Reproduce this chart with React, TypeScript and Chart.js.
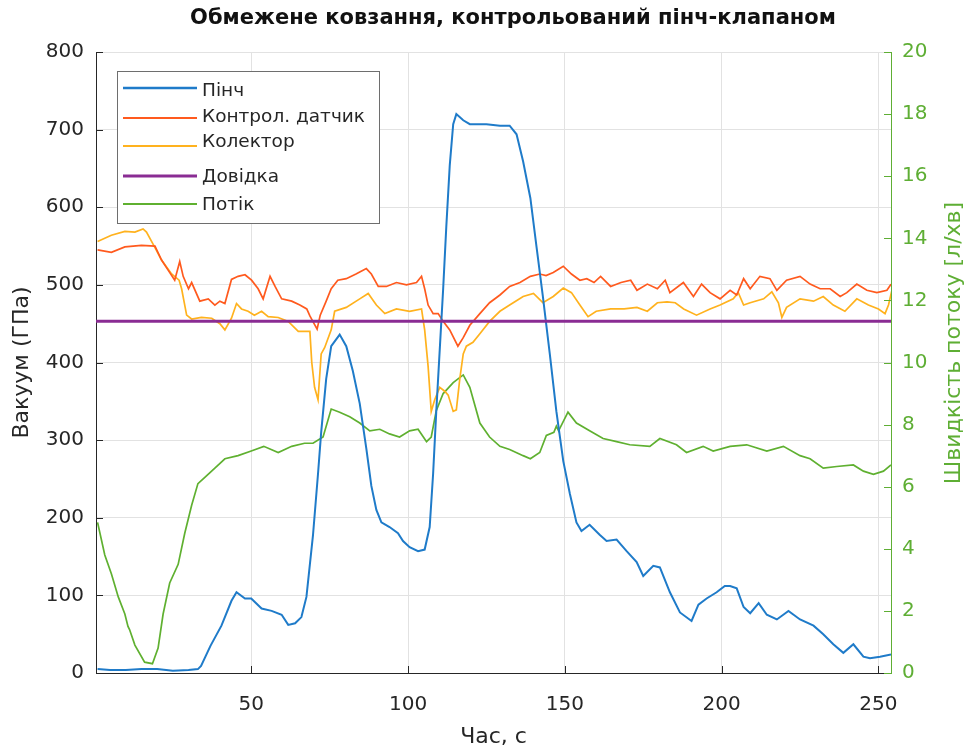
import React, { useEffect, useRef } from 'react';
import { Chart, registerables } from 'chart.js';

Chart.register(...registerables);

const TITLE = 'Обмежене ковзання, контрольований пінч-клапаном';
const X_TITLE = 'Час, с';
const Y_TITLE = 'Вакуум (ГПа)';
const Y2_TITLE = 'Швидкість потоку [л/хв]';

const xTicks = [50, 100, 150, 200, 250];
const seriesNames = ['Пінч', 'Контрол. датчик', 'Колектор', 'Довідка', 'Потік'];

// Пінч (ГПа)
const pinchT = [
  1, 5, 10, 15, 20, 25, 30, 33, 34, 37,
  40.5, 43.7, 45.3, 48, 50, 53.3, 56.5, 59.7, 61.8, 64,
  66, 67.6, 69.7, 71.3, 72.3, 73.9, 75.5, 78.2, 80.3, 82.4,
  84.6, 86.7, 88.3, 89.9, 91.5, 94.1, 96.8, 98.4, 100.5, 103.2,
  105.3, 106.9, 108, 109, 110.1, 111.2, 112.2, 113.3, 114.4, 115.4,
  117.6, 119.7, 125, 129.3, 132.4, 134.6, 136.7, 139, 141, 143,
  145.2, 147.3, 149.5, 151.6, 153.7, 155.3, 157.9, 161.1, 163.3, 166.5,
  169.7, 172.9, 175, 178.2, 180.3, 183.5, 186.7, 190.4, 192.6, 195.2,
  198.4, 201, 202.7, 204.8, 207, 209.1, 211.8, 214.4, 217.6, 221.3,
  225, 229.3, 232.4, 235.6, 238.8, 242, 245.2, 247.3, 250.5, 254,
];
const pinchV = [
  5, 4, 4, 5, 5, 3, 4, 5, 9, 35,
  61, 93, 104, 96, 96, 83, 80, 75, 62, 64,
  72, 98, 178, 257, 310, 379, 421, 436, 421, 389,
  347, 289, 241, 210, 194, 188, 180, 170, 162, 157,
  159, 188, 257, 337, 416, 495, 575, 654, 707, 720,
  712, 707, 707, 705, 705, 694, 659, 612, 548, 485,
  411, 337, 273, 231, 194, 183, 191, 178, 170, 172,
  157, 143, 125, 138, 136, 104, 78, 67, 88, 96,
  104, 112, 112, 109, 85, 77, 90, 75, 69, 80,
  69, 61, 50, 37, 26, 37, 21, 19, 21, 24,
];

// Контрол. датчик (ГПа)
const sensorT = [
  1, 5.4, 9.7, 15, 19.3, 21.4, 23.5, 25.6, 27.2, 28.3,
  30, 31, 33.6, 36.3, 38.4, 40, 41.6, 43.7, 45.8, 48,
  50.1, 52.2, 53.8, 56, 57.6, 59.7, 62.9, 65.5, 67.7, 68.7,
  71, 72, 73.9, 75.5, 77.6, 80.3, 83.4, 86.7, 88.3, 90.5,
  93.1, 96.3, 99.5, 102.7, 104.3, 105.3, 106.4, 108, 109.6, 111.2,
  113.3, 115.9, 117.6, 119.7, 122.9, 126, 129.3, 132.4, 135.7, 139,
  142, 144, 146.3, 149.5, 152.1, 154.8, 157, 159.3, 161.4, 164.6,
  167.9, 171, 173, 176.3, 179.5, 182, 183.5, 187.8, 191, 193.6,
  196.3, 199.5, 202.7, 204.8, 207, 209.1, 212.2, 215.4, 217.6, 220.7,
  225, 228.2, 231.4, 234.6, 237.8, 239.9, 243.1, 246.3, 249.5, 252.7,
  254,
];
const sensorV = [
  545, 542, 549, 551, 550, 532, 519, 506, 530, 511,
  495, 503, 479, 482, 474, 479, 476, 507, 511, 513,
  506, 495, 482, 511, 498, 482, 479, 474, 469, 460,
  443, 461, 479, 495, 506, 508, 514, 521, 514, 498,
  498, 503, 500, 503, 511, 495, 474, 463, 463, 453,
  442, 421, 432, 448, 463, 477, 487, 498, 503, 511,
  514, 512, 516, 524, 514, 506, 508, 503, 511, 498,
  503, 506, 493, 501, 495, 506, 490, 503, 485, 501,
  490, 482, 493, 487, 508, 495, 511, 508, 493, 506,
  511, 501, 495, 495, 485, 490, 501, 493, 490, 493,
  501,
];

// Колектор (ГПа)
const collT = [
  1, 5.4, 9.7, 12.9, 15.5, 16.6, 19.3, 21.4, 24.6, 27,
  27.8, 29.4, 31, 34.1, 37.4, 40, 41.6, 43.7, 45.3, 46.9,
  49, 51, 53.3, 55.4, 58.6, 61.8, 65, 67.1, 68.7, 69.3,
  70.2, 71.3, 72.3, 73.4, 75.5, 76.6, 80.3, 84.6, 87.3, 89.9,
  92.6, 96.3, 100.5, 104.3, 105.3, 106.4, 107.4, 108.5, 110.1, 111.7,
  112.8, 114.4, 115.4, 116.5, 117.6, 118.6, 120.7, 122.9, 126, 129.3,
  132.4, 136.7, 140, 143, 146.3, 149.5, 152.1, 154.8, 157.4, 160,
  164.6, 168.9, 173, 176.3, 179.5, 182.6, 185.2, 187.9, 192, 196.3,
  199.5, 203.7, 205.3, 207, 209.1, 213.4, 216, 218.1, 219.2, 220.7,
  225, 229.3, 232.4, 235.6, 239.3, 243.1, 246.8, 250, 252.1, 253.2,
  254.3,
];
const collV = [
  556, 564, 569, 568, 572, 568, 548, 532, 514, 506,
  495, 461, 456, 458, 457, 450, 442, 457, 476, 469,
  466, 461, 466, 459, 458, 453, 440, 440, 440, 400,
  368, 352, 411, 419, 442, 466, 471, 482, 489, 474,
  463, 469, 466, 469, 442, 395, 337, 352, 368, 363,
  358, 337, 339, 379, 411, 421, 426, 437, 453, 466,
  474, 485, 489, 477, 485, 496, 490, 474, 459, 466,
  469, 469, 471, 466, 477, 478, 477, 469, 461, 469,
  474, 482, 490, 474, 477, 482, 491, 477, 458, 471,
  482, 479, 485, 474, 466, 482, 474, 469, 463, 474,
  493,
];

// Довідка (ГПа)
const refT = [0.5, 254];
const refV = [453, 453];

// Потік (л/хв)
const flowT = [
  1, 3.3, 5.4, 7.6, 9.7, 10.7, 11.2, 12.9, 16, 18.5,
  20.3, 21.9, 24, 26.7, 28.8, 31, 33, 35.2, 38.4, 41.6,
  45.8, 50, 54, 58.6, 62.9, 67, 69.7, 72.9, 75.5, 78.2,
  81.4, 84.6, 87.8, 91, 94.1, 97.3, 100.5, 103.2, 105.9, 107.4,
  109, 111.2, 114.4, 117.6, 119.7, 122.9, 126, 129.3, 132.4, 136.7,
  139, 142, 144.1, 146.5, 147.3, 148, 151, 153.7, 157.9, 162.2,
  166.5, 170.7, 177.1, 180.3, 185.6, 188.8, 194.1, 197.3, 202.7, 208,
  214.4, 219.7, 225, 228.2, 232.4, 236.7, 242, 245.2, 248.4, 251.6,
  254,
];
const flowV = [
  4.85, 3.8, 3.2, 2.45, 1.9, 1.5, 1.4, 0.9, 0.35, 0.3,
  0.8, 1.9, 2.9, 3.5, 4.5, 5.4, 6.1, 6.3, 6.6, 6.9,
  7.0, 7.15, 7.3, 7.1, 7.3, 7.4, 7.4, 7.6, 8.5, 8.4,
  8.25, 8.05, 7.8, 7.85, 7.7, 7.6, 7.8, 7.85, 7.45, 7.6,
  8.45, 9.0, 9.35, 9.6, 9.2, 8.05, 7.6, 7.3, 7.2, 7.0,
  6.9, 7.1, 7.65, 7.75, 7.95, 7.8, 8.4, 8.05, 7.8, 7.55,
  7.45, 7.35, 7.3, 7.55, 7.35, 7.1, 7.3, 7.15, 7.3, 7.35,
  7.15, 7.3, 7.0, 6.9, 6.6, 6.65, 6.7, 6.5, 6.4, 6.5,
  6.7,
];

const COLORS = {
  pinch: '#1f7bc9',
  sensor: '#ff5a1e',
  coll: '#ffb21e',
  ref: '#8a2c93',
  flow: '#5fb030',
  text: '#262626',
  grid: '#e2e2e2',
  green: '#5eae34',
};

const FONT = "'DejaVu Sans', sans-serif";

const toPts = (t: number[], v: number[]) => t.map((x, i) => ({ x, y: v[i] }));

const overlay = {
  id: 'overlay',
  afterDraw(chart: any) {
    const ctx = chart.ctx;
    const ca = chart.chartArea;
    const xs = chart.scales.x;
    const yl = chart.scales.y;
    const yr = chart.scales.y2;
    ctx.save();

    // chart title
    ctx.fillStyle = '#111111';
    ctx.font = `bold 21px ${FONT}`;
    ctx.textAlign = 'center';
    ctx.textBaseline = 'middle';
    ctx.fillText(TITLE, 513, 19);

    ctx.lineWidth = 1;
    // inward ticks
    ctx.strokeStyle = COLORS.text;
    yl.ticks.forEach((t: any) => {
      const py = Math.round(yl.getPixelForValue(t.value)) + 0.5;
      ctx.beginPath();
      ctx.moveTo(ca.left, py);
      ctx.lineTo(ca.left + 7, py);
      ctx.stroke();
    });
    xs.ticks.forEach((t: any) => {
      const px = Math.round(xs.getPixelForValue(t.value)) + 0.5;
      ctx.beginPath();
      ctx.moveTo(px, ca.bottom);
      ctx.lineTo(px, ca.bottom - 7);
      ctx.stroke();
    });
    ctx.strokeStyle = COLORS.green;
    yr.ticks.forEach((t: any) => {
      const py = Math.round(yr.getPixelForValue(t.value)) + 0.5;
      ctx.beginPath();
      ctx.moveTo(ca.right, py);
      ctx.lineTo(ca.right - 7, py);
      ctx.stroke();
    });

    // right axis title (reads bottom to top)
    ctx.save();
    ctx.translate(954, 343);
    ctx.rotate(-Math.PI / 2);
    ctx.fillStyle = COLORS.green;
    ctx.font = `22px ${FONT}`;
    ctx.textAlign = 'center';
    ctx.textBaseline = 'middle';
    ctx.fillText(Y2_TITLE, 0, 0);
    ctx.restore();

    // legend
    const bx = ca.left + 21;
    const by = ca.top + 19;
    const bw = 262;
    const bh = 152;
    ctx.fillStyle = '#ffffff';
    ctx.fillRect(bx, by, bw, bh);
    ctx.strokeStyle = '#6e6e6e';
    ctx.lineWidth = 1;
    ctx.strokeRect(bx + 0.5, by + 0.5, bw, bh);
    const rows = [
      { c: COLORS.pinch, w: 2.5, ly: 17, ty: 20 },
      { c: COLORS.sensor, w: 2, ly: 47, ty: 46 },
      { c: COLORS.coll, w: 2, ly: 75, ty: 71 },
      { c: COLORS.ref, w: 3, ly: 105, ty: 106 },
      { c: COLORS.flow, w: 2, ly: 133, ty: 134 },
    ];
    ctx.font = `18.5px ${FONT}`;
    ctx.textAlign = 'left';
    ctx.textBaseline = 'middle';
    rows.forEach((r, i) => {
      ctx.strokeStyle = r.c;
      ctx.lineWidth = r.w;
      ctx.beginPath();
      ctx.moveTo(bx + 6, by + r.ly);
      ctx.lineTo(bx + 80, by + r.ly);
      ctx.stroke();
      ctx.fillStyle = COLORS.text;
      ctx.fillText(seriesNames[i], bx + 85, by + r.ty);
    });
    ctx.restore();
  },
};

export default function App() {
  const ref = useRef<HTMLCanvasElement | null>(null);
  useEffect(() => {
    const canvas = ref.current;
    if (!canvas) return;
    const lineDs = (label: string, t: number[], v: number[], color: string, width: number, axis: string) => ({
      label,
      data: toPts(t, v),
      borderColor: color,
      backgroundColor: color,
      borderWidth: width,
      pointRadius: 0,
      tension: 0,
      fill: false,
      yAxisID: axis,
    });
    const chart = new Chart(canvas, {
      type: 'line',
      data: {
        datasets: [
          lineDs(seriesNames[3], refT, refV, COLORS.ref, 3, 'y'),
          lineDs(seriesNames[0], pinchT, pinchV, COLORS.pinch, 2, 'y'),
          lineDs(seriesNames[1], sensorT, sensorV, COLORS.sensor, 1.7, 'y'),
          lineDs(seriesNames[2], collT, collV, COLORS.coll, 1.7, 'y'),
          lineDs(seriesNames[4], flowT, flowV, COLORS.flow, 1.7, 'y2'),
        ],
      },
      options: {
        responsive: false,
        animation: false,
        devicePixelRatio: 1,
        layout: { padding: { top: 52, left: 0, right: 0, bottom: 0 } },
        plugins: {
          legend: { display: false },
          tooltip: { enabled: false },
          title: { display: false },
        },
        scales: {
          x: {
            type: 'linear',
            position: 'bottom',
            min: 0.5,
            max: 254,
            afterBuildTicks: (s: any) => {
              s.ticks = xTicks.map((v) => ({ value: v }));
            },
            afterFit: (s: any) => {
              s.height = 77;
            },
            grid: { color: COLORS.grid, drawTicks: false },
            border: { color: COLORS.text, width: 1 },
            ticks: {
              color: COLORS.text,
              font: { family: FONT, size: 20 },
              padding: 20,
              maxRotation: 0,
            },
            title: {
              display: true,
              text: X_TITLE,
              color: COLORS.text,
              font: { family: FONT, size: 22, lineHeight: 1.2 },
              padding: { top: 0, bottom: 0 },
            },
          },
          y: {
            type: 'linear',
            position: 'left',
            min: 0,
            max: 800,
            afterFit: (s: any) => {
              s.width = 96;
            },
            grid: { color: COLORS.grid, drawTicks: false },
            border: { color: COLORS.text, width: 1 },
            ticks: {
              stepSize: 100,
              color: COLORS.text,
              font: { family: FONT, size: 20 },
              padding: 12,
            },
            title: {
              display: true,
              text: Y_TITLE,
              color: COLORS.text,
              font: { family: FONT, size: 22, lineHeight: 1.2 },
              padding: { top: 9, bottom: 0 },
            },
          },
          y2: {
            type: 'linear',
            position: 'right',
            min: 0,
            max: 20,
            afterFit: (s: any) => {
              s.width = 80;
            },
            grid: { drawOnChartArea: false, drawTicks: false },
            border: { color: COLORS.green, width: 1 },
            ticks: {
              stepSize: 2,
              color: COLORS.green,
              font: { family: FONT, size: 20 },
              padding: 11,
            },
          },
        },
      },
      plugins: [overlay],
    } as any);
    return () => chart.destroy();
  }, []);

  return (
    <div style={{ position: 'absolute', left: 0, top: 0, width: 971, height: 750, background: '#ffffff' }}>
      <canvas ref={ref} width={971} height={750} style={{ display: 'block' }} />
    </div>
  );
}
